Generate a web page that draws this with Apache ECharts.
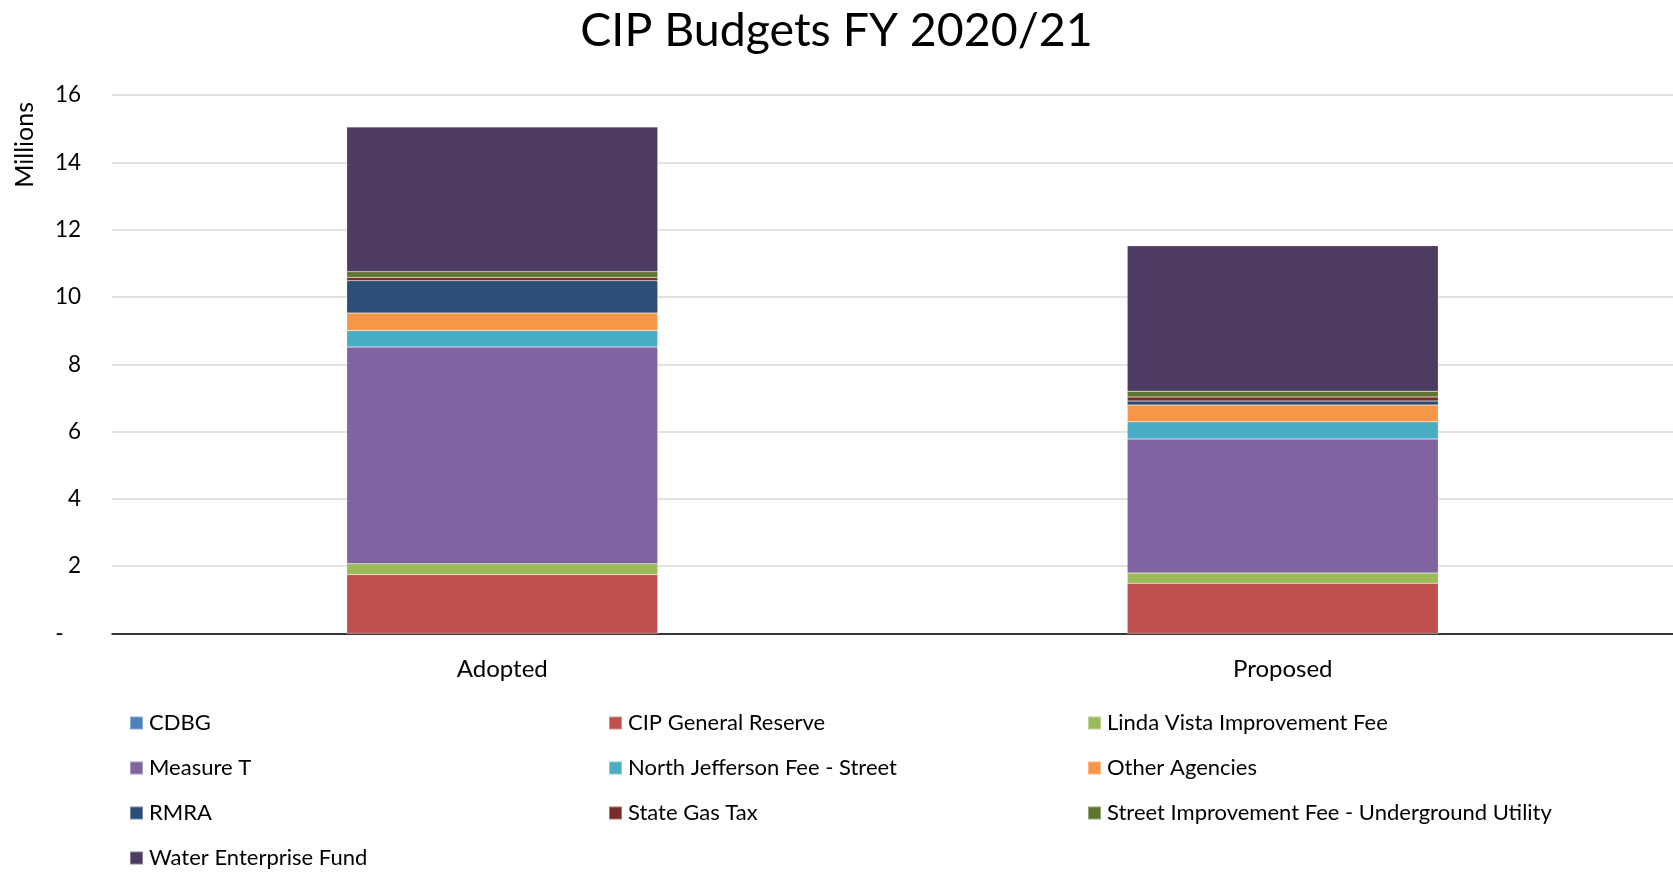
<!DOCTYPE html>
<html>
<head>
<meta charset="utf-8">
<script src="https://cdn.jsdelivr.net/npm/echarts@6/dist/echarts.min.js"></script>
<style>
html,body{margin:0;padding:0;background:#fff;}
#chart{width:1673px;height:872px;}
</style>
</head>
<body>
<div id="chart"></div>
<script>
const categories = ['Adopted', 'Proposed'];
const seriesNames = ['CDBG', 'CIP General Reserve', 'Linda Vista Improvement Fee', 'Measure T',
  'North Jefferson Fee - Street', 'Other Agencies', 'RMRA', 'State Gas Tax',
  'Street Improvement Fee - Underground Utility', 'Water Enterprise Fund'];
const cdbg = [0, 0];
const cipGeneralReserve = [1.75, 1.49];
const lindaVista = [0.32, 0.31];
const measureT = [6.44, 3.98];
const northJefferson = [0.49, 0.51];
const otherAgencies = [0.52, 0.50];
const rmra = [0.96, 0.12];
const stateGasTax = [0.10, 0.12];
const streetImprovement = [0.17, 0.17];
const waterEnterprise = [4.30, 4.32];
const yTicks = [0, 2, 4, 6, 8, 10, 12, 14, 16];

const values = [cdbg, cipGeneralReserve, lindaVista, measureT, northJefferson, otherAgencies,
  rmra, stateGasTax, streetImprovement, waterEnterprise];
const colors = ['#4F81BD', '#C0504D', '#9BBB59', '#8064A2', '#4BACC6', '#F79646',
  '#2C4D75', '#772C2A', '#5F7530', '#4D3B62'];

const FONT = 'Lato, "Open Sans", sans-serif';
const chart = echarts.init(document.getElementById('chart'));

const legendBase = {
  orient: 'vertical',
  top: 712,
  padding: 0,
  itemWidth: 13,
  itemHeight: 13,
  itemGap: 23,
  icon: 'rect',
  selectedMode: false,
  textStyle: {fontFamily: FONT, fontSize: 22, color: '#000', lineHeight: 22, padding: [0, 0, 0, 1]}
};

chart.setOption({
  animation: false,
  color: colors,
  title: {
    text: 'CIP Budgets FY 2020/21',
    left: 'center',
    top: 2,
    textStyle: {fontFamily: FONT, fontSize: 46.5, fontWeight: 'normal', color: '#000'}
  },
  graphic: [{
    type: 'text',
    left: 12,
    top: 102,
    rotation: Math.PI / 2,
    style: {text: 'Millions', font: '25px ' + FONT, fill: '#000'}
  }],
  legend: [
    Object.assign({}, legendBase, {left: 129, data: [seriesNames[0], seriesNames[3], seriesNames[6], seriesNames[9]]}),
    Object.assign({}, legendBase, {left: 608, data: [seriesNames[1], seriesNames[4], seriesNames[7]]}),
    Object.assign({}, legendBase, {left: 1087, data: [seriesNames[2], seriesNames[5], seriesNames[8]]})
  ],
  grid: {left: 112, right: 0, top: 95, bottom: 238.5, containLabel: false},
  xAxis: {
    type: 'category',
    data: categories,
    axisTick: {show: false},
    axisLine: {lineStyle: {color: '#000', width: 1.5}},
    axisLabel: {fontFamily: FONT, fontSize: 24, color: '#000', margin: 24}
  },
  yAxis: {
    type: 'value',
    min: yTicks[0],
    max: yTicks[yTicks.length - 1],
    interval: 2,
    axisLine: {show: false},
    axisTick: {show: false},
    splitLine: {lineStyle: {color: '#D9D9D9', width: 1.5}},
    axisLabel: {
      fontFamily: FONT, fontSize: 22.5, color: '#000', margin: 31,
      formatter: v => (v === 0 ? '-   ' : String(v))
    }
  },
  series: seriesNames.map((name, i) => ({
    name: name,
    type: 'bar',
    stack: 'total',
    barWidth: 311,
    data: values[i],
    itemStyle: {borderColor: 'rgba(255,255,255,0.35)', borderWidth: 0.5}
  }))
});
</script>
</body>
</html>
